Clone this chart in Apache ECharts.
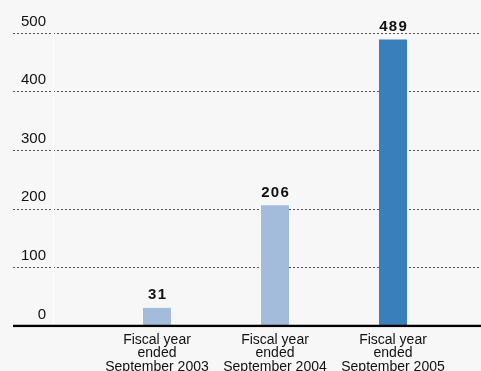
<!DOCTYPE html>
<html>
<head>
<meta charset="utf-8">
<script src="https://cdn.jsdelivr.net/npm/echarts@6/dist/echarts.min.js"></script>
<style>
  html, body { margin: 0; padding: 0; background: #f7f7f7; }
  #chart { width: 481px; height: 371px; }
</style>
</head>
<body>
<div id="chart"></div>
<script>
// Fiscal-year totals
const categories = [
  'Fiscal year\nended\nSeptember 2003',
  'Fiscal year\nended\nSeptember 2004',
  'Fiscal year\nended\nSeptember 2005'
];
const values = [31, 206, 489];
const barColors = ['#a3bcdc', '#a3bcdc', '#387fbb'];
const yTicks = [0, 100, 200, 300, 400, 500];

const FONT = '"Liberation Sans", Arial, Helvetica, sans-serif';
const yMin = yTicks[0];
const yMax = yTicks[yTicks.length - 1];
const yStep = yTicks[1] - yTicks[0];

const chart = echarts.init(document.getElementById('chart'), null, { renderer: 'canvas' });

chart.setOption({
  backgroundColor: '#f7f7f7',
  animation: false,
  grid: [
    // full-width grid carrying the dotted reference lines and value labels
    { left: 13, right: 0, top: 33, bottom: 45, outerBoundsMode: 'none', containLabel: false },
    // narrower grid in which the three bars sit
    { left: 98, right: 29, top: 33, bottom: 45, outerBoundsMode: 'none', containLabel: false }
  ],
  xAxis: [
    {
      gridIndex: 0, type: 'value', min: 0, max: 1, show: false
    },
    {
      gridIndex: 1,
      type: 'category',
      data: categories,
      axisLine: { show: false },
      axisTick: { show: false },
      axisLabel: {
        interval: 0,
        margin: 7,
        color: '#111',
        fontFamily: FONT,
        fontSize: 14,
        lineHeight: 13.5,
        align: 'center'
      }
    }
  ],
  yAxis: [
    {
      gridIndex: 0,
      type: 'value',
      min: yMin, max: yMax, interval: yStep,
      offset: -40,
      axisLine: { show: true, lineStyle: { color: '#ffffff', width: 1 } },
      axisTick: { show: false },
      splitLine: {
        show: true,
        lineStyle: { color: '#555', type: [2, 2], width: 1 }
      },
      axisLabel: {
        margin: 7,
        color: '#111',
        fontFamily: FONT,
        fontSize: 15,
        verticalAlign: 'bottom',
        padding: [0, 0, 4, 0]
      }
    },
    {
      gridIndex: 1, type: 'value', min: yMin, max: yMax, interval: yStep, show: false
    }
  ],
  series: [
    {
      type: 'bar',
      xAxisIndex: 1,
      yAxisIndex: 1,
      barWidth: 28,
      data: values.map((v, i) => ({ value: v, itemStyle: { color: barColors[i] } })),
      label: {
        show: true,
        position: 'top',
        distance: 5,
        color: '#111',
        fontFamily: FONT,
        fontSize: 15,
        fontWeight: 'bold',
        // slightly tracked-out digits
        formatter: p => String(p.value).split('').join('\u200A')
      },
      z: 3
    },
    {
      // heavy baseline at zero
      type: 'line',
      xAxisIndex: 0,
      yAxisIndex: 0,
      data: [[0, 0], [1, 0]],
      symbol: 'none',
      lineStyle: { color: '#000', width: 2.7 },
      silent: true,
      z: 4
    }
  ]
});
</script>
</body>
</html>
